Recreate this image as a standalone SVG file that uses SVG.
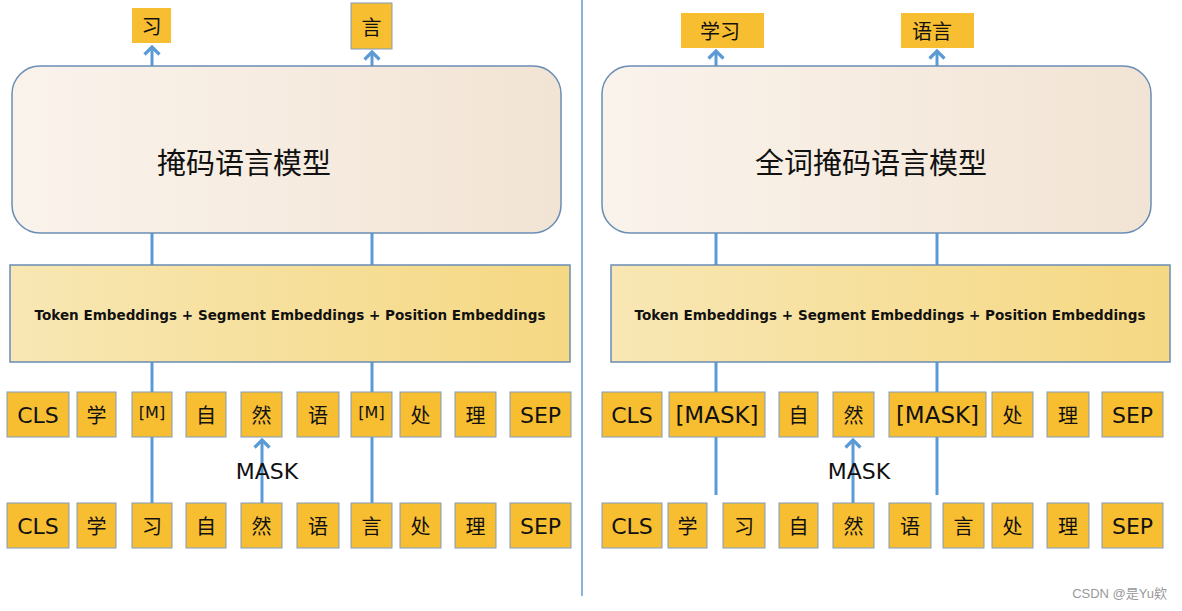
<svg xmlns="http://www.w3.org/2000/svg" width="1182" height="611" viewBox="0 0 1182 611">
<defs>
<linearGradient id="gModel" x1="0" y1="0" x2="1" y2="0"><stop offset="0" stop-color="#FAF3EC"/><stop offset="1" stop-color="#F2E4D4"/></linearGradient>
<linearGradient id="gEmb" x1="0" y1="0" x2="1" y2="0"><stop offset="0" stop-color="#F8E7B4"/><stop offset="1" stop-color="#F5D883"/></linearGradient>
<marker id="arr" viewBox="0 0 12 18" refX="9" refY="9" markerWidth="12" markerHeight="18" markerUnits="userSpaceOnUse" orient="auto">
<path d="M1.5,1.5 L9,9 L1.5,16.5" fill="none" stroke="#5B9BD5" stroke-width="3.2"/>
</marker>
<style>
.model{fill:url(#gModel);stroke:#6A8DB5;stroke-width:1.5}
.emb{fill:url(#gEmb);stroke:#6A8DB5;stroke-width:1.5}
.tok{fill:#F8BE31;stroke:#7F9CC0;stroke-width:1}
.out{fill:#F8BE31;stroke:none}
.t{font-family:"DejaVu Sans","Noto Sans CJK SC",sans-serif;font-size:22px;fill:#111;text-anchor:middle;dominant-baseline:central}
.c{font-family:"Noto Sans CJK SC",sans-serif;font-size:20px;fill:#111;text-anchor:middle;dominant-baseline:central}
.big{font-family:"Noto Sans CJK SC",sans-serif;font-size:29px;fill:#111;text-anchor:middle;dominant-baseline:central}
.embt{font-family:"DejaVu Sans",sans-serif;font-weight:bold;font-size:14.5px;fill:#111;text-anchor:middle;dominant-baseline:central}
.mask{font-family:"DejaVu Sans",sans-serif;font-size:22px;fill:#111;text-anchor:middle}
.ln{stroke:#5B9BD5;stroke-width:3;fill:none}
</style>
</defs>
<rect width="1182" height="611" fill="#fff"/>
<line x1="582" y1="0" x2="582" y2="596" stroke="#5B9BD5" stroke-width="1.5"/>

<g id="connectors">
<line class="ln" x1="152" y1="503" x2="152" y2="437"/>
<line class="ln" x1="152" y1="392" x2="152" y2="362"/>
<line class="ln" x1="152" y1="265" x2="152" y2="233"/>
<line class="ln" x1="152" y1="66" x2="152" y2="47" marker-end="url(#arr)"/>
<line class="ln" x1="372" y1="503" x2="372" y2="437"/>
<line class="ln" x1="372" y1="392" x2="372" y2="362"/>
<line class="ln" x1="372" y1="265" x2="372" y2="233"/>
<line class="ln" x1="372" y1="66" x2="372" y2="52" marker-end="url(#arr)"/>
<line class="ln" x1="262" y1="503" x2="262" y2="440" marker-end="url(#arr)"/>
<line class="ln" x1="716" y1="495" x2="716" y2="437"/>
<line class="ln" x1="716" y1="392" x2="716" y2="362"/>
<line class="ln" x1="716" y1="265" x2="716" y2="233"/>
<line class="ln" x1="716" y1="66" x2="716" y2="51" marker-end="url(#arr)"/>
<line class="ln" x1="937" y1="495" x2="937" y2="437"/>
<line class="ln" x1="937" y1="392" x2="937" y2="362"/>
<line class="ln" x1="937" y1="265" x2="937" y2="233"/>
<line class="ln" x1="937" y1="66" x2="937" y2="51" marker-end="url(#arr)"/>
<line class="ln" x1="853" y1="503" x2="853" y2="440" marker-end="url(#arr)"/>
</g>

<text class="mask" x="267" y="479">MASK</text>
<text class="mask" x="859" y="479">MASK</text>

<g id="out-xi"><rect class="out" x="132" y="8" width="39" height="35"/><text class="c" x="151.5" y="25.5">习</text></g>
<g id="out-yan"><rect class="tok" x="351" y="3" width="41" height="46"/><text class="c" x="371.5" y="26">言</text></g>
<g id="mlm"><rect class="model" x="12" y="66" width="549" height="167" rx="28"/><text class="big" x="244" y="161">掩码语言模型</text></g>
<g id="emb-left"><rect class="emb" x="10" y="265" width="560" height="97"/><text class="embt" x="290" y="315" textLength="511" lengthAdjust="spacingAndGlyphs">Token Embeddings + Segment Embeddings + Position Embeddings</text></g>

<g id="left-top">
<rect class="tok" x="7" y="392" width="62" height="45"/><text class="t" x="38" y="415">CLS</text>
<rect class="tok" x="77" y="392" width="39" height="45"/><text class="c" x="96.5" y="414">学</text>
<rect class="tok" x="132" y="392" width="40" height="45"/><text class="t" x="152" y="412" style="font-size:16px">[M]</text>
<rect class="tok" x="186" y="392" width="40" height="45"/><text class="c" x="206" y="414">自</text>
<rect class="tok" x="241" y="392" width="41" height="45"/><text class="c" x="261.5" y="414">然</text>
<rect class="tok" x="297" y="392" width="42" height="45"/><text class="c" x="318" y="414">语</text>
<rect class="tok" x="351" y="392" width="41" height="45"/><text class="t" x="371.5" y="412" style="font-size:16px">[M]</text>
<rect class="tok" x="400" y="392" width="41" height="45"/><text class="c" x="420.5" y="414">处</text>
<rect class="tok" x="455" y="392" width="41" height="45"/><text class="c" x="475.5" y="414">理</text>
<rect class="tok" x="510" y="392" width="61" height="45"/><text class="t" x="540.5" y="415">SEP</text>
</g>
<g id="left-bottom">
<rect class="tok" x="7" y="503" width="62" height="45"/><text class="t" x="38" y="526">CLS</text>
<rect class="tok" x="77" y="503" width="39" height="45"/><text class="c" x="96.5" y="525">学</text>
<rect class="tok" x="132" y="503" width="40" height="45"/><text class="c" x="152" y="525">习</text>
<rect class="tok" x="186" y="503" width="40" height="45"/><text class="c" x="206" y="525">自</text>
<rect class="tok" x="241" y="503" width="41" height="45"/><text class="c" x="261.5" y="525">然</text>
<rect class="tok" x="297" y="503" width="42" height="45"/><text class="c" x="318" y="525">语</text>
<rect class="tok" x="351" y="503" width="41" height="45"/><text class="c" x="371.5" y="525">言</text>
<rect class="tok" x="400" y="503" width="41" height="45"/><text class="c" x="420.5" y="525">处</text>
<rect class="tok" x="455" y="503" width="41" height="45"/><text class="c" x="475.5" y="525">理</text>
<rect class="tok" x="510" y="503" width="61" height="45"/><text class="t" x="540.5" y="526">SEP</text>
</g>

<g id="out-xuexi"><rect class="out" x="681" y="13" width="83" height="35"/><text class="c" x="720" y="30.5">学习</text></g>
<g id="out-yuyan"><rect class="out" x="901" y="13" width="73" height="35"/><text class="c" x="932" y="30.5">语言</text></g>
<g id="wwm"><rect class="model" x="602" y="66" width="549" height="167" rx="28"/><text class="big" x="871" y="161">全词掩码语言模型</text></g>
<g id="emb-right"><rect class="emb" x="611" y="265" width="559" height="97"/><text class="embt" x="890" y="315" textLength="511" lengthAdjust="spacingAndGlyphs">Token Embeddings + Segment Embeddings + Position Embeddings</text></g>

<g id="right-top">
<rect class="tok" x="602" y="392" width="60" height="45"/><text class="t" x="632" y="415">CLS</text>
<rect class="tok" x="669" y="392" width="96" height="45"/><text class="t" x="717" y="415" style="font-size:23px">[MASK]</text>
<rect class="tok" x="779" y="392" width="39" height="45"/><text class="c" x="798.5" y="414">自</text>
<rect class="tok" x="833" y="392" width="41" height="45"/><text class="c" x="853.5" y="414">然</text>
<rect class="tok" x="889" y="392" width="97" height="45"/><text class="t" x="937.5" y="415" style="font-size:23px">[MASK]</text>
<rect class="tok" x="992" y="392" width="41" height="45"/><text class="c" x="1012.5" y="414">处</text>
<rect class="tok" x="1047" y="392" width="42" height="45"/><text class="c" x="1068" y="414">理</text>
<rect class="tok" x="1102" y="392" width="61" height="45"/><text class="t" x="1132.5" y="415">SEP</text>
</g>
<g id="right-bottom">
<rect class="tok" x="602" y="503" width="60" height="45"/><text class="t" x="632" y="526">CLS</text>
<rect class="tok" x="668" y="503" width="39" height="45"/><text class="c" x="687.5" y="525">学</text>
<rect class="tok" x="723" y="503" width="42" height="45"/><text class="c" x="744" y="525">习</text>
<rect class="tok" x="779" y="503" width="39" height="45"/><text class="c" x="798.5" y="525">自</text>
<rect class="tok" x="833" y="503" width="41" height="45"/><text class="c" x="853.5" y="525">然</text>
<rect class="tok" x="889" y="503" width="42" height="45"/><text class="c" x="910" y="525">语</text>
<rect class="tok" x="943" y="503" width="41" height="45"/><text class="c" x="963.5" y="525">言</text>
<rect class="tok" x="992" y="503" width="41" height="45"/><text class="c" x="1012.5" y="525">处</text>
<rect class="tok" x="1047" y="503" width="42" height="45"/><text class="c" x="1068" y="525">理</text>
<rect class="tok" x="1102" y="503" width="61" height="45"/><text class="t" x="1132.5" y="526">SEP</text>
</g>

<text x="1167" y="598" style="font-family:'Liberation Sans','Noto Sans CJK SC',sans-serif;font-size:13px;fill:#999;text-anchor:end">CSDN @是Yu欸</text>
</svg>
